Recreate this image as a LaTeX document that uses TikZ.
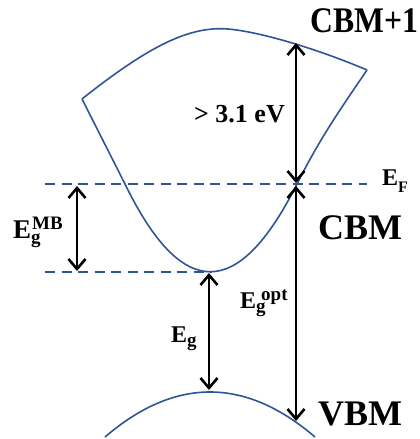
\documentclass[tikz,border=0pt]{standalone}
\usepackage{fontspec}
\setmainfont{Liberation Serif}
\usepackage{graphicx}
\usetikzlibrary{arrows.meta}

\definecolor{bandblue}{RGB}{47,85,151}
\newcommand{\lblsize}[1]{\fontsize{#1}{#1}\selectfont}
\newcommand{\Elbl}[3][0pt]{E\rlap{\raisebox{-0.2em}{\lblsize{19}#2}}\kern#1\raisebox{0.3em}{\lblsize{19}#3}}

\begin{document}
\begin{tikzpicture}[
    x=1pt, y=-1pt,
    band/.style={draw=bandblue, line width=1.6pt, line join=round},
    level/.style={draw=bandblue, line width=2pt, dash pattern=on 10pt off 6.5pt},
    gap/.style={{Straight Barb[length=10pt,width=17pt]}-{Straight Barb[length=10pt,width=17pt]}, line width=2.6pt},
    big/.style={font=\bfseries\lblsize{36}, inner sep=0pt},
    lbl/.style={font=\bfseries\lblsize{24}, inner sep=0pt}
]
\useasboundingbox (0,0) rectangle (420,439);

% bands
\draw[band] (82,99) .. controls (150,45) and (190,26) .. (228,29)
    .. controls (262,32) and (320,50) .. (367,70);
\draw[band] (367,70) .. controls (344,104) and (321,136) .. (297,184)
    .. controls (238,301) and (182,301) .. (125,184) -- (82,99);
\draw[band] (105,437) .. controls (175,377) and (245,377) .. (315,437);

% levels
\draw[level] (45,184) -- (367,184);
\draw[level] (45,272) -- (212,272);

% end points of the gaps
\coordinate (mbtop) at (77,186);
\coordinate (mbbot) at (77,271);
\coordinate (cbmone) at (296,43);
\coordinate (fermi) at (296,183);
\coordinate (fermilow) at (296,186);
\coordinate (vbmtip) at (296,421);
\coordinate (cbm) at (209,273);
\coordinate (vbm) at (209,390);

\draw[gap] (mbtop) -- (mbbot);
\draw[gap] (cbmone) -- (fermi);
\draw[gap] (fermilow) -- (vbmtip);
\draw[gap] (cbm) -- (vbm);

% labels
\node[big, anchor=base west] (lcbmone) at (310,32) {\scalebox{0.88}[1]{CBM+1}};
\node[big, anchor=base west] (lcbm) at (318,239) {CBM};
\node[big, anchor=base west] (lvbm) at (318,425) {VBM};
\node[font=\bfseries\lblsize{26}, inner sep=0pt, anchor=base east] (lwide) at (285,122) {> 3.1 eV};
\node[lbl, anchor=base west] (lef) at (382,185) {E\raisebox{-0.32em}{\lblsize{16}F}};
\node[lbl, anchor=base west] (leg) at (171,342) {\Elbl{g}{}};
\node[lbl, anchor=base west] (lopt) at (240,308) {\Elbl[5pt]{g}{opt}};
\node[font=\bfseries\lblsize{27}, inner sep=0pt, anchor=base west] (lmb) at (13,238) {\Elbl[1pt]{g}{MB}};
\end{tikzpicture}
\end{document}
